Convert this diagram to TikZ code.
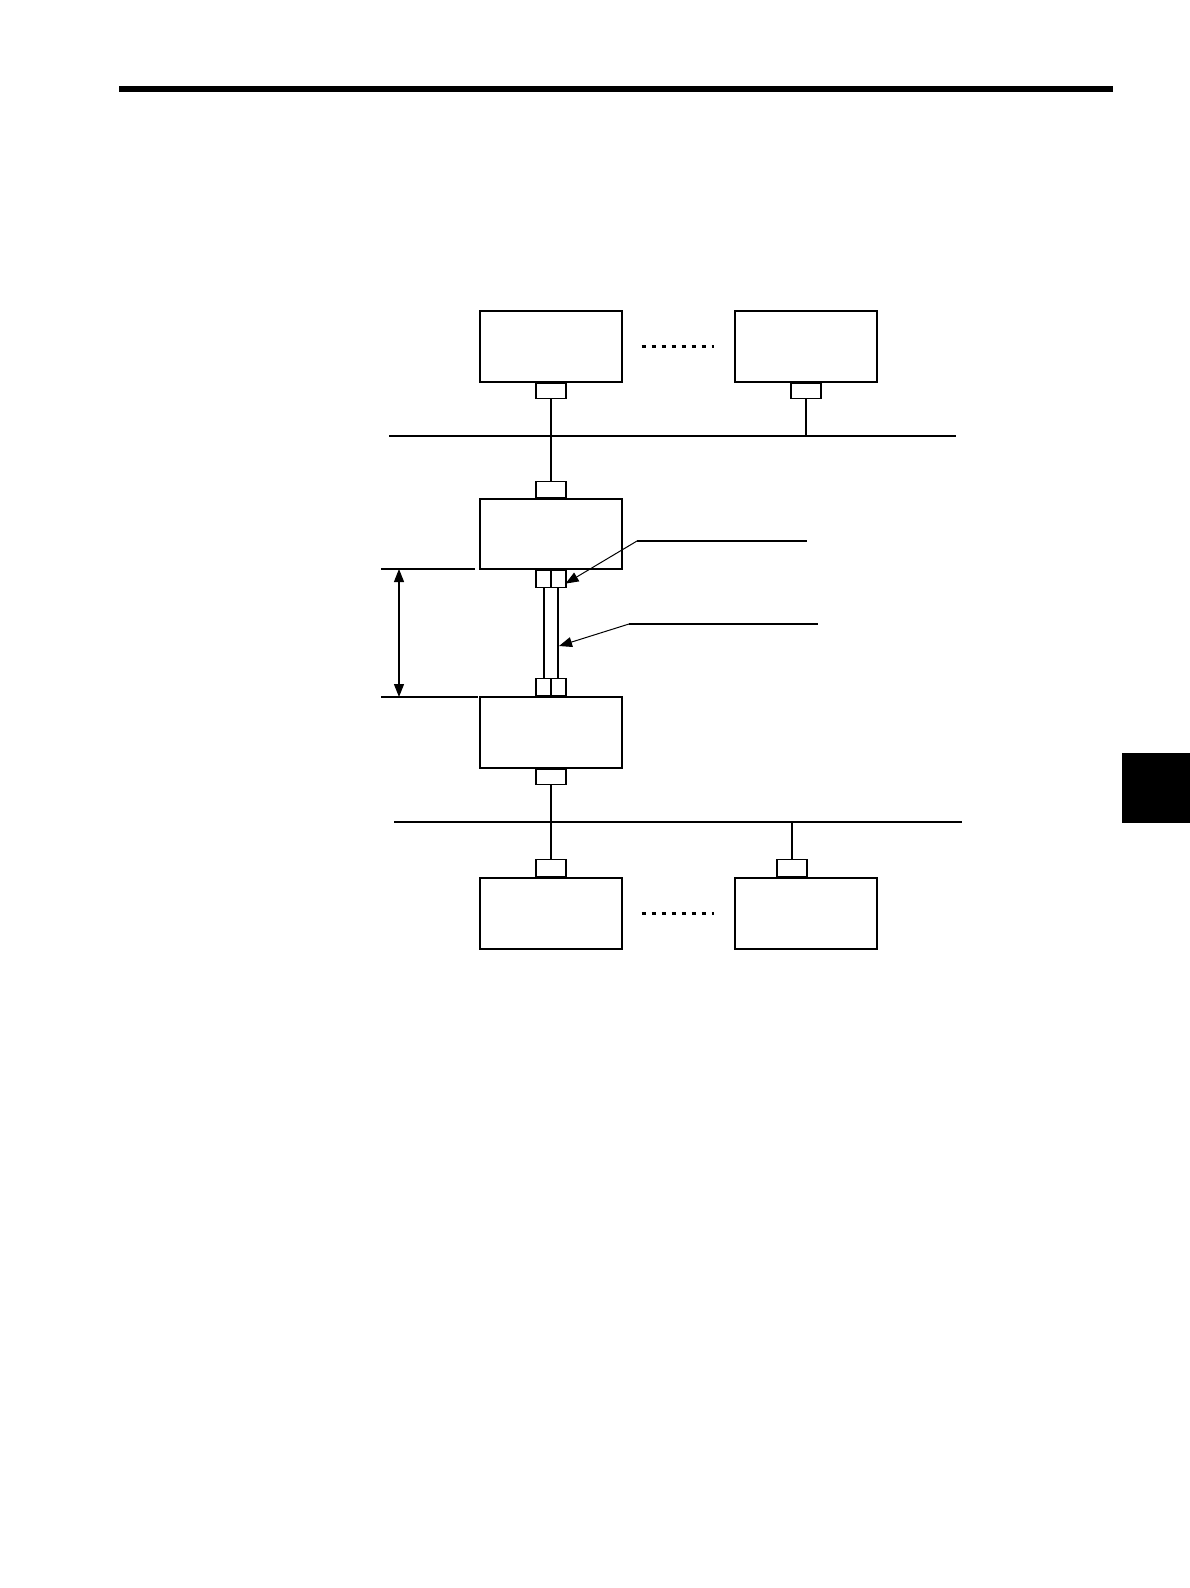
\documentclass[tikz,border=0pt]{standalone}
\usepackage{tikz}
\usetikzlibrary{arrows.meta, positioning, calc}

\tikzset{
    unitbox/.style={rectangle, draw, line width=1.1pt, minimum width=142pt, minimum height=71pt, inner sep=0pt},
    port/.style={rectangle, draw, line width=1.1pt, minimum width=30pt, minimum height=15pt, inner sep=0pt},
    dport/.style={port, minimum height=17pt, path picture={\draw[line width=1.1pt] (path picture bounding box.north) -- (path picture bounding box.south);}},
    wire/.style={line width=1.1pt},
    dotline/.style={line width=2.2pt, dash pattern=on 4pt off 6pt},
    leader/.style={line width=1pt, -{Triangle[length=13pt, width=10pt]}},
}

\begin{document}
\begin{tikzpicture}[x=1pt, y=-1pt]
    \useasboundingbox (0,0) rectangle (1190,1588);

    % page rule and side tab
    \fill (119,86) rectangle (1113,92);
    \fill (1122,753) rectangle (1190,823);

    % upper stations
    \node [unitbox] (top1) at (551,346.5) {};
    \node [unitbox] (top2) at (806,346.5) {};
    \node [port, anchor=north] (top1p) at (top1.south) {};
    \node [port, anchor=north] (top2p) at (top2.south) {};
    \draw [dotline] ([xshift=19pt]top1.east) -- ([xshift=-20pt]top2.west);

    % upper bus
    \coordinate (busAL) at (389,436);
    \coordinate (busAR) at (956,436);
    \draw [wire] (busAL) -- (busAR);

    % repeater pair
    \node [unitbox, minimum height=70pt] (rep1) at (551,534) {};
    \node [port, minimum height=16pt, anchor=south] (rep1in) at (rep1.north) {};
    \node [dport, anchor=north] (rep1out) at (rep1.south) {};
    \node [unitbox] (rep2) at (551,732.5) {};
    \node [dport, anchor=south] (rep2in) at (rep2.north) {};
    \node [port, anchor=north] (rep2out) at (rep2.south) {};

    % cable between the pair
    \draw [wire] ([xshift=-7pt]rep1out.south) -- ([xshift=-7pt]rep2in.north);
    \draw [wire] ([xshift=7pt]rep1out.south) -- ([xshift=7pt]rep2in.north);

    \draw [wire] (top1p.south) -- (rep1in.north);
    \draw [wire] (top2p.south) -- (top2p.south |- busAL);

    % distance
    \coordinate (dimT) at (399,569);
    \coordinate (dimB) at (399,697);
    \draw [wire] (381,569) -- (475,569);
    \draw [wire] (381,697) -- (478,697);
    \draw [line width=1.1pt, {Triangle[length=13pt, width=10pt]}-{Triangle[length=13pt, width=10pt]}] (dimT) -- (dimB);

    % leaders
    \coordinate (lead1) at (637,541);
    \coordinate (lead2) at (629,624);
    \draw [wire] (lead1) -- (807,541);
    \draw [wire] (lead2) -- (818,624);
    \draw [leader] (lead1) -- ([xshift=-1pt, yshift=-5pt]rep1out.east);
    \draw [leader] (lead2) -- (559,646);

    % lower bus
    \coordinate (busBL) at (394,822);
    \coordinate (busBR) at (962,822);
    \draw [wire] (busBL) -- (busBR);

    % lower stations
    \node [unitbox] (bot1) at (551,913.5) {};
    \node [unitbox] (bot2) at (806,913.5) {};
    \node [port, minimum height=17pt, anchor=south] (bot1p) at (bot1.north) {};
    \node [port, minimum height=17pt, anchor=south] (bot2p) at ([xshift=-14pt]bot2.north) {};
    \draw [dotline] ([xshift=19pt]bot1.east) -- ([xshift=-20pt]bot2.west);

    \draw [wire] (rep2out.south) -- (bot1p.north);
    \draw [wire] (bot2p.north) -- (bot2p.north |- busBL);
\end{tikzpicture}
\end{document}
